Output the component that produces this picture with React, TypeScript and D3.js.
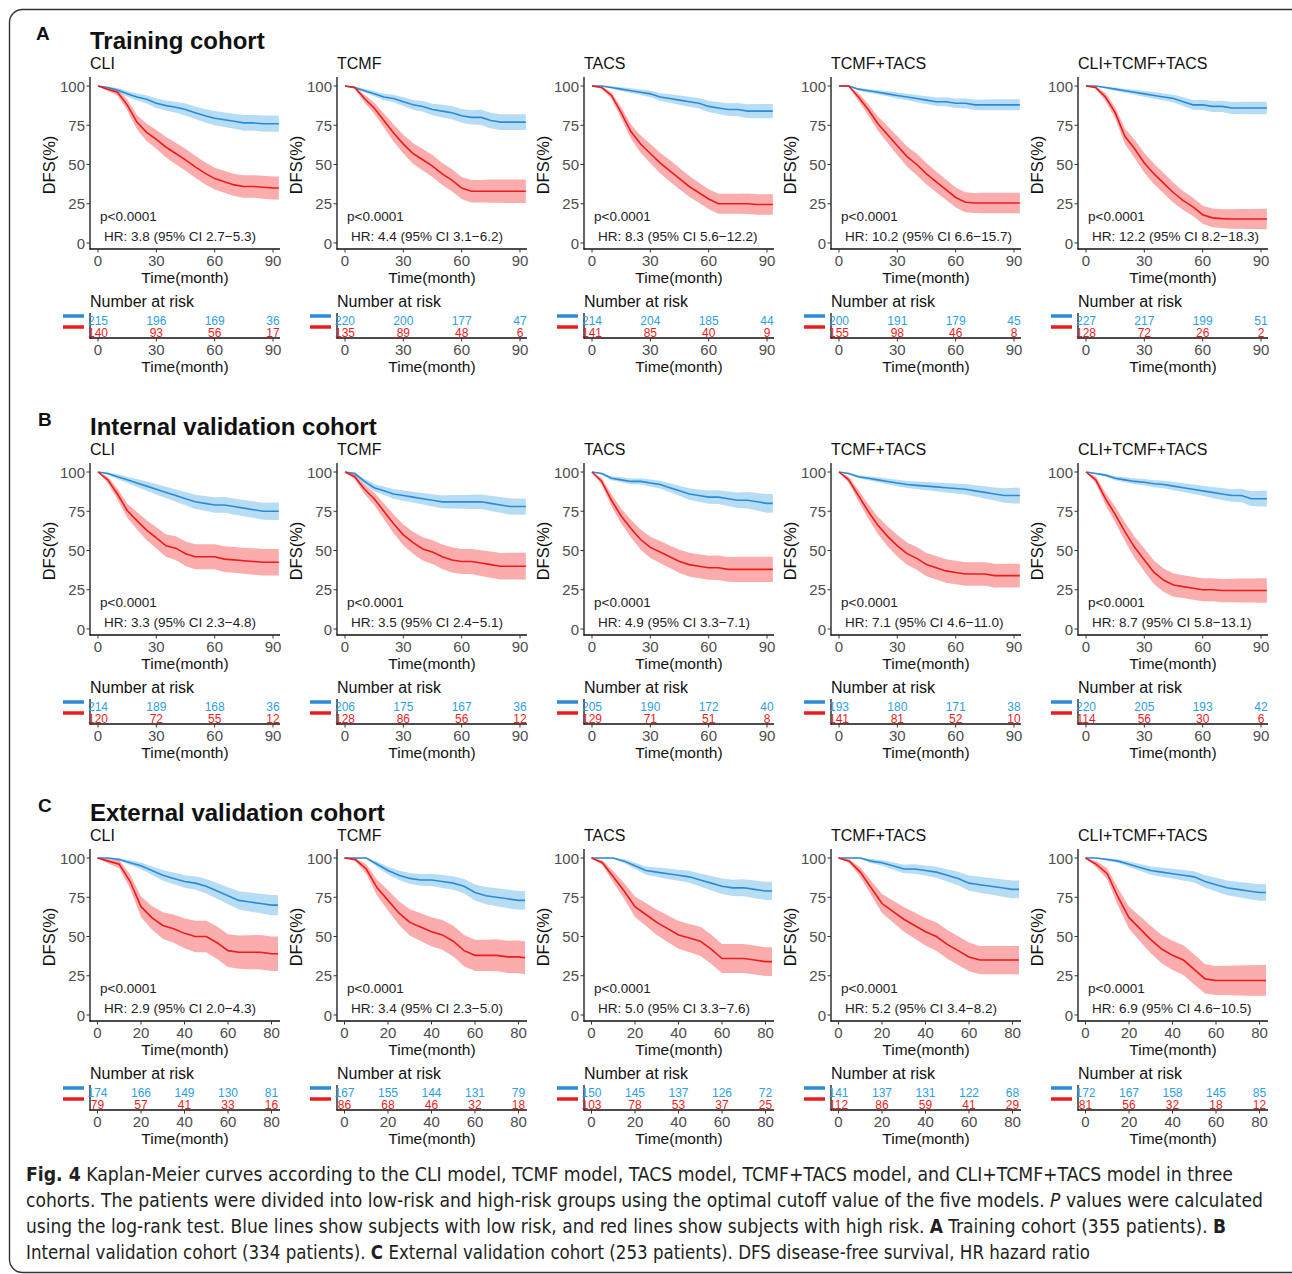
import React from "react";
import * as d3 from "d3";

// ---- layout constants ----
const W = 1292;
const H = 1274;
const COL_STEP = 247;
const ROW_STEP = 386;

// ---- data ----
const models = ["CLI", "TCMF", "TACS", "TCMF+TACS", "CLI+TCMF+TACS"];
const letters = ["A", "B", "C"];
const cohortTitles = ["Training cohort", "Internal validation cohort", "External validation cohort"];

const timesAB = [0, 5, 10, 15, 20, 25, 30, 35, 40, 45, 50, 55, 60, 65, 70, 75, 80, 85, 90, 93];
const timesC = [0, 5, 10, 15, 20, 25, 30, 35, 40, 45, 50, 55, 60, 65, 70, 75, 80, 83];
const xTicksAB = [0, 30, 60, 90];
const xTicksC = [0, 20, 40, 60, 80];
const yTicks = [0, 25, 50, 75, 100];

const hrA = ["HR: 3.8 (95% CI 2.7\u22125.3)", "HR: 4.4 (95% CI 3.1\u22126.2)", "HR: 8.3 (95% CI 5.6\u221212.2)", "HR: 10.2 (95% CI 6.6\u221215.7)", "HR: 12.2 (95% CI 8.2\u221218.3)"];
const hrB = ["HR: 3.3 (95% CI 2.3\u22124.8)", "HR: 3.5 (95% CI 2.4\u22125.1)", "HR: 4.9 (95% CI 3.3\u22127.1)", "HR: 7.1 (95% CI 4.6\u221211.0)", "HR: 8.7 (95% CI 5.8\u221213.1)"];
const hrC = ["HR: 2.9 (95% CI 2.0\u22124.3)", "HR: 3.4 (95% CI 2.3\u22125.0)", "HR: 5.0 (95% CI 3.3\u22127.6)", "HR: 5.2 (95% CI 3.4\u22128.2)", "HR: 6.9 (95% CI 4.6\u221210.5)"];

// number at risk (low risk / high risk)
const riskLowA = [[215, 196, 169, 36], [220, 200, 177, 47], [214, 204, 185, 44], [200, 191, 179, 45], [227, 217, 199, 51]];
const riskHighA = [[140, 93, 56, 17], [135, 89, 48, 6], [141, 85, 40, 9], [155, 98, 46, 8], [128, 72, 26, 2]];
const riskLowB = [[214, 189, 168, 36], [206, 175, 167, 36], [205, 190, 172, 40], [193, 180, 171, 38], [220, 205, 193, 42]];
const riskHighB = [[120, 72, 55, 12], [128, 86, 56, 12], [129, 71, 51, 8], [141, 81, 52, 10], [114, 56, 30, 6]];
const riskLowC = [[174, 166, 149, 130, 81], [167, 155, 144, 131, 79], [150, 145, 137, 126, 72], [141, 137, 131, 122, 68], [172, 167, 158, 145, 85]];
const riskHighC = [[79, 57, 41, 33, 16], [86, 68, 46, 32, 18], [103, 78, 53, 37, 25], [112, 86, 59, 41, 29], [81, 56, 32, 18, 12]];

// DFS (%)
const survLowA = [
  [100, 99, 97.5, 95, 93, 91.5, 89, 87.5, 86.5, 85, 83, 81, 79.5, 78.5, 77.5, 76.5, 76.5, 76, 76, 76],
  [100, 99, 97, 95, 93, 92, 90, 88, 87, 85, 84, 83, 81, 80, 80, 78, 77, 77, 77, 77],
  [100, 100, 99, 98, 97, 96, 95, 93, 92, 91, 90, 89, 87, 86, 85, 85, 84, 84, 84, 84],
  [100, 100, 98, 97, 96, 95, 94, 93, 92, 91, 90, 90, 89, 89, 88, 88, 88, 88, 88, 88],
  [100, 100, 99, 98, 97, 96, 95, 94, 93, 92, 90, 88, 88, 87, 87, 86, 86, 86, 86, 86],
];
const survHighA = [
  [100, 98, 96, 88, 77, 70.5, 66, 61, 57, 53, 48.5, 44.5, 41, 39, 37, 36, 36, 35.5, 35, 35],
  [100, 99, 92, 86, 78, 70, 63, 57, 53, 49, 44, 40, 35, 33, 33, 33, 33, 33, 33, 33],
  [100, 99, 94, 83, 71, 63, 57, 51, 46, 41, 36, 32, 28, 25, 25, 25, 25, 24.5, 24.5, 24.5],
  [100, 100, 93, 85, 76, 69, 62, 55, 50, 44, 39, 34, 29, 26, 25.5, 25.5, 25.5, 25.5, 25.5, 25.5],
  [100, 99, 93, 83, 68, 60, 51, 44, 38, 32, 27, 23, 18, 16, 15.5, 15.3, 15.3, 15.3, 15.3, 15.3],
];
const survLowB = [
  [100, 99, 97, 95, 93, 91, 89, 87, 85, 83, 81, 80, 79, 79, 78, 77, 76, 75, 75, 75],
  [100, 99, 94, 90, 88, 86, 85, 84, 83, 82, 81, 81, 81, 81, 81, 80, 79, 78, 78, 78],
  [100, 99, 96, 95, 94, 94, 93, 92, 90, 88, 86, 85, 84, 84, 83, 82, 82, 81, 80, 80],
  [100, 99, 97, 96, 95, 94, 93, 92, 91.5, 91, 90.5, 90, 89.5, 89, 88, 87, 86, 85, 85, 85],
  [100, 99, 98, 96, 95, 94, 93.5, 92.5, 92, 91, 90, 89, 88, 87, 86, 85, 85, 83, 83, 83],
];
const survHighB = [
  [100, 95, 86, 75.5, 69, 63, 58, 53, 51.5, 48, 46, 46, 46, 44.5, 44, 43.5, 43, 42.5, 42.5, 42.5],
  [100, 97, 89, 83, 75, 67, 60, 55, 51, 49, 46, 44, 43, 43, 42, 41, 40, 40, 40, 40],
  [100, 94, 82, 72, 64, 57, 52, 49, 46, 43, 41, 40, 39, 39, 38, 38, 38, 38, 38, 38],
  [100, 95, 85, 75, 66, 59, 53, 48, 45, 41, 39, 37, 36, 35, 35, 35, 34, 34, 34, 34],
  [100, 95, 83, 73, 62, 52, 44, 36, 31, 28, 27, 26, 25, 25, 24.5, 24.5, 24.5, 24.5, 24.5, 24.5],
];
const survLowC = [
  [100, 100, 99, 97, 95, 92, 89, 87, 85, 84, 82, 79, 76, 73, 72, 71, 70, 70],
  [100, 100, 100, 96, 92, 89, 87, 86, 86, 85, 84, 82, 78, 76, 75, 74, 73, 73],
  [100, 100, 100, 98, 95, 92, 91, 90, 89, 88, 86, 84, 82, 81, 81, 80, 79, 79],
  [100, 100, 100, 98, 97, 95, 93, 93, 92, 91, 89, 87, 84, 83, 82, 81, 80, 80],
  [100, 100, 99, 98, 96, 94, 92, 91, 90, 89, 88, 85, 83, 81, 80, 79, 78, 78],
];
const survHighC = [
  [100, 98, 96, 85, 69, 62, 57, 55, 52, 50, 50, 46, 41, 40, 40, 40, 39, 39],
  [100, 99, 93, 81, 73, 65, 59, 56, 53, 51, 47, 41, 38, 38, 38, 37, 37, 36.5],
  [100, 97, 88, 79, 69, 64, 59, 55, 51, 49, 47, 42, 36, 36, 36, 35, 34, 34],
  [100, 98, 91, 81, 71, 66, 61, 57, 53, 50, 45, 41, 37, 35, 35, 35, 35, 35],
  [100, 96, 90, 75, 62, 55, 48, 42, 38, 35, 29, 23, 22, 22, 22, 22, 22, 22],
];

// half width of the 95% CI band (percentage points)
const bandLowA = [
  [0, 0.6, 1.2, 1.8, 2.2, 2.6, 3, 3.3, 3.5, 3.8, 4, 4.3, 4.5, 4.6, 4.8, 5, 5, 5.2, 5.2, 5.2],
  [0, 0.6, 1.2, 1.6, 2, 2.4, 2.8, 3.1, 3.4, 3.7, 4, 4.2, 4.4, 4.6, 4.8, 5, 5, 5, 5, 5],
  [0, 0.3, 0.8, 1.2, 1.5, 1.8, 2.1, 2.4, 2.7, 3, 3.2, 3.4, 3.6, 3.8, 4, 4.2, 4.4, 4.5, 4.5, 4.5],
  [0, 0.2, 0.8, 1.1, 1.4, 1.6, 1.9, 2.1, 2.3, 2.5, 2.7, 2.9, 3, 3.2, 3.3, 3.4, 3.5, 3.5, 3.5, 3.5],
  [0, 0.2, 0.6, 1, 1.3, 1.6, 1.8, 2.1, 2.3, 2.5, 2.8, 3.1, 3.3, 3.5, 3.6, 3.8, 3.9, 4, 4, 4],
];
const bandHighA = [
  [0, 1.2, 2, 3.5, 4.5, 5.5, 6, 6.5, 6.8, 7, 7, 7, 7, 7, 7, 7.2, 7.2, 7.3, 7.3, 7.3],
  [0, 0.8, 2.5, 3.5, 4.5, 5.5, 6, 6.5, 6.8, 7, 7, 7, 7, 7.2, 7.2, 7.4, 7.4, 7.5, 7.5, 7.5],
  [0, 0.8, 2, 3.5, 4.5, 5.5, 6, 6.5, 6.8, 6.8, 6.6, 6.4, 6.3, 6.3, 6.3, 6.4, 6.5, 6.5, 6.5, 6.5],
  [0, 0.3, 2.5, 3.5, 4.5, 5.3, 6, 6.5, 6.8, 6.8, 6.6, 6.5, 6.4, 6.4, 6.4, 6.5, 6.5, 6.5, 6.5, 6.5],
  [0, 0.8, 2.5, 3.5, 5, 5.8, 6.3, 6.5, 6.5, 6.3, 6, 5.8, 5.8, 5.9, 6, 6.2, 6.3, 6.4, 6.5, 6.5],
];
const bandLowB = [
  [0, 0.8, 1.5, 2, 2.5, 3, 3.3, 3.6, 3.9, 4.2, 4.5, 4.7, 4.9, 5, 5.1, 5.2, 5.3, 5.4, 5.5, 5.5],
  [0, 0.8, 1.8, 2.3, 2.7, 3, 3.3, 3.5, 3.7, 3.9, 4.1, 4.3, 4.4, 4.5, 4.6, 4.8, 5, 5.2, 5.2, 5.2],
  [0, 0.6, 1.3, 1.6, 1.8, 2, 2.2, 2.5, 2.8, 3.2, 3.6, 3.9, 4.2, 4.4, 4.6, 4.9, 5.2, 5.6, 6, 6],
  [0, 0.5, 1, 1.3, 1.6, 1.8, 2, 2.2, 2.4, 2.6, 2.8, 3, 3.2, 3.4, 3.6, 3.9, 4.2, 4.6, 5, 5],
  [0, 0.5, 0.9, 1.3, 1.6, 1.8, 2, 2.2, 2.4, 2.6, 2.8, 3, 3.2, 3.5, 3.8, 4, 4.3, 4.7, 5, 5],
];
const bandHighB = [
  [0, 2, 3.5, 4.5, 5.5, 6.3, 6.8, 7.2, 7.5, 7.8, 8, 8, 8, 8.2, 8.2, 8.3, 8.4, 8.5, 8.5, 8.5],
  [0, 1.5, 3, 4, 5, 6, 6.6, 7, 7.4, 7.6, 7.8, 8, 8, 8, 8.2, 8.3, 8.4, 8.5, 8.5, 8.5],
  [0, 2.2, 3.8, 4.8, 5.6, 6.3, 6.8, 7, 7.2, 7.4, 7.5, 7.6, 7.7, 7.8, 7.9, 8, 8, 8, 8, 8],
  [0, 2, 3.5, 4.5, 5.5, 6.3, 6.8, 7.1, 7.3, 7.4, 7.5, 7.5, 7.5, 7.5, 7.5, 7.5, 7.5, 7.5, 7.5, 7.5],
  [0, 2.2, 3.8, 5, 6, 6.8, 7.3, 7.5, 7.5, 7.4, 7.3, 7.3, 7.3, 7.3, 7.4, 7.5, 7.6, 7.7, 7.8, 7.8],
];
const bandLowC = [
  [0, 0.3, 0.8, 1.5, 2.2, 2.8, 3.3, 3.7, 4, 4.3, 4.6, 5, 5.4, 5.8, 6, 6.2, 6.4, 6.5],
  [0, 0.3, 0.5, 1.8, 2.5, 3, 3.4, 3.7, 3.9, 4.1, 4.3, 4.6, 5.1, 5.5, 5.7, 5.9, 6, 6],
  [0, 0.3, 0.5, 1.3, 2, 2.6, 3, 3.3, 3.5, 3.8, 4.1, 4.5, 4.9, 5.2, 5.4, 5.6, 5.8, 5.8],
  [0, 0.3, 0.5, 1.3, 1.8, 2.3, 2.7, 3, 3.2, 3.5, 3.9, 4.3, 4.8, 5.1, 5.3, 5.5, 5.7, 5.7],
  [0, 0.3, 0.8, 1.2, 1.8, 2.2, 2.6, 2.9, 3.1, 3.3, 3.6, 4, 4.4, 4.7, 4.9, 5.1, 5.3, 5.3],
];
const bandHighC = [
  [0, 1.5, 2.5, 4.5, 6.5, 7.5, 8.5, 9, 9.5, 10, 10, 10.3, 10.5, 10.6, 10.8, 11, 11, 11],
  [0, 1, 3, 5, 6.5, 7.5, 8.3, 8.8, 9.2, 9.5, 9.8, 10, 10, 10, 10.2, 10.3, 10.4, 10.5],
  [0, 1.5, 3.5, 5, 6.5, 7.3, 8, 8.5, 8.8, 9, 9.2, 9.3, 9.2, 9.2, 9.2, 9.2, 9.2, 9.2],
  [0, 1.2, 3, 4.5, 6, 7, 7.8, 8.3, 8.7, 9, 9.2, 9.2, 9.1, 9, 9, 9, 9, 9],
  [0, 2, 3.5, 5.5, 7, 8, 8.7, 9, 9.3, 9.5, 9.5, 9.3, 9.2, 9.3, 9.5, 9.7, 9.8, 9.8],
];

const survLow = [survLowA, survLowB, survLowC];
const survHigh = [survHighA, survHighB, survHighC];
const bandLow = [bandLowA, bandLowB, bandLowC];
const bandHigh = [bandHighA, bandHighB, bandHighC];
const riskLow = [riskLowA, riskLowB, riskLowC];
const riskHigh = [riskHighA, riskHighB, riskHighC];
const hrLabels = [hrA, hrB, hrC];

// ---- styles ----
const FONT = "'Liberation Sans', Arial, sans-serif";
const BLUE = "#2a8bd8";
const BLUE_FILL = "#2E9FDF";
const RED = "#ee1b1b";
const RED_FILL = "#f41a1a";
const TICK_GREY = "#4d4d4d";

const KMPanel = ({ row, col }: { row: number; col: number }) => {
  const isC = row === 2;
  const times = isC ? timesC : timesAB;
  const xTicks = isC ? xTicksC : xTicksAB;
  const x = d3.scaleLinear().domain(isC ? [0, 80] : [0, 90]).range(isC ? [97.5, 271.5] : [98, 273]);
  const y = d3.scaleLinear().domain([0, 100]).range([243, 86]);

  const band = (s: number[], h: number[]) =>
    d3
      .area<number>()
      .x((_, i) => x(times[i]))
      .y0((v, i) => y(Math.max(0, v - h[i])))
      .y1((v, i) => y(Math.min(100, v + h[i])))(s) || "";
  const line = (s: number[]) =>
    d3
      .line<number>()
      .x((_, i) => x(times[i]))
      .y((v) => y(v))(s) || "";

  const lo = survLow[row][col];
  const hi = survHigh[row][col];

  return (
    <g transform={`translate(${col * COL_STEP},${row * ROW_STEP})`} fontFamily={FONT}>
      <text x={90} y={69} fontSize={16} fill="#111">{models[col]}</text>

      {/* survival curves with CI bands */}
      <path d={band(lo, bandLow[row][col])} fill={BLUE_FILL} opacity={0.35} />
      <path d={band(hi, bandHigh[row][col])} fill={RED_FILL} opacity={0.36} />
      <path d={line(lo)} fill="none" stroke={BLUE} strokeWidth={1.6} />
      <path d={line(hi)} fill="none" stroke={RED} strokeWidth={1.6} />

      {/* y axis */}
      <line x1={90} x2={90} y1={77} y2={249.5} stroke="#111" strokeWidth={1.3} />
      {yTicks.map((t) => (
        <g key={t}>
          <line x1={86.5} x2={90} y1={y(t)} y2={y(t)} stroke="#333" strokeWidth={1} />
          <text x={85} y={y(t) + 5.5} fontSize={15} textAnchor="end" fill={TICK_GREY}>{t}</text>
        </g>
      ))}
      <text transform="translate(55,165) rotate(-90)" fontSize={16.5} textAnchor="middle" fill="#111">DFS(%)</text>

      {/* x axis */}
      <line x1={89.5} x2={280} y1={249} y2={249} stroke="#111" strokeWidth={1.3} />
      {xTicks.map((t) => (
        <g key={t}>
          <line x1={x(t)} x2={x(t)} y1={249} y2={252.5} stroke="#333" strokeWidth={1} />
          <text x={x(t)} y={265.5} fontSize={15} textAnchor="middle" fill={TICK_GREY}>{t}</text>
        </g>
      ))}
      <text x={185} y={283} fontSize={15.5} textAnchor="middle" fill="#111">Time(month)</text>

      <text x={100} y={220.5} fontSize={13.5} fill="#222">p&lt;0.0001</text>
      <text x={104} y={240.5} fontSize={13.5} fill="#222">{hrLabels[row][col]}</text>

      {/* number at risk table */}
      <text x={90} y={307} fontSize={16} fill="#111">Number at risk</text>
      <line x1={63} x2={84} y1={316} y2={316} stroke={BLUE} strokeWidth={3.5} />
      <line x1={63} x2={84} y1={327} y2={327} stroke={RED} strokeWidth={3.5} />
      <line x1={90} x2={90} y1={313} y2={338.5} stroke="#111" strokeWidth={1.3} />
      <line x1={89.5} x2={280} y1={338} y2={338} stroke="#111" strokeWidth={1.3} />
      {xTicks.map((t, i) => (
        <g key={t}>
          <text x={x(t)} y={325} fontSize={12} textAnchor="middle" fill={BLUE_FILL}>{riskLow[row][col][i]}</text>
          <text x={x(t)} y={336.5} fontSize={12} textAnchor="middle" fill={RED}>{riskHigh[row][col][i]}</text>
          <line x1={x(t)} x2={x(t)} y1={338} y2={341.5} stroke="#333" strokeWidth={1} />
          <text x={x(t)} y={355} fontSize={15} textAnchor="middle" fill={TICK_GREY}>{t}</text>
        </g>
      ))}
      <text x={185} y={372} fontSize={15.5} textAnchor="middle" fill="#111">Time(month)</text>
    </g>
  );
};

const CAP_FONT = "'Liberation Sans Narrow', 'DejaVu Sans Condensed', 'Open Sans', sans-serif";

export default function App() {
  return (
    <svg
      width={W}
      height={H}
      style={{ position: "absolute", left: 0, top: 0, background: "#fff" }}
      xmlns="http://www.w3.org/2000/svg"
    >
      <rect x={9.5} y={9.5} width={1295} height={1263} rx={13} fill="#fff" stroke="#333" strokeWidth={1.4} />

      {letters.map((l, r) => (
        <g key={l} transform={`translate(0,${r * ROW_STEP})`} fontFamily={FONT} fontWeight="bold" fill="#111">
          <text x={r === 0 ? 36 : 38} y={40} fontSize={19}>{l}</text>
          <text x={90} y={48.5} fontSize={24}>{cohortTitles[r]}</text>
        </g>
      ))}

      {[0, 1, 2].map((r) => models.map((_, c) => <KMPanel key={`${r}-${c}`} row={r} col={c} />))}

      <g fontFamily={CAP_FONT} fontSize={19} fill="#231f20" fontStretch="condensed">
        <text x={26} y={1181} textLength={1207} lengthAdjust="spacingAndGlyphs">
          <tspan fontWeight="bold">Fig. 4</tspan> Kaplan-Meier curves according to the CLI model, TCMF model, TACS model, TCMF+TACS model, and CLI+TCMF+TACS model in three
        </text>
        <text x={26} y={1207} textLength={1237} lengthAdjust="spacingAndGlyphs">
          cohorts. The patients were divided into low-risk and high-risk groups using the optimal cutoff value of the five models. <tspan fontStyle="italic">P</tspan> values were calculated
        </text>
        <text x={26} y={1233} textLength={1200} lengthAdjust="spacingAndGlyphs">
          using the log-rank test. Blue lines show subjects with low risk, and red lines show subjects with high risk. <tspan fontWeight="bold">A</tspan> Training cohort (355 patients). <tspan fontWeight="bold">B</tspan>
        </text>
        <text x={26} y={1259} textLength={1064} lengthAdjust="spacingAndGlyphs">
          Internal validation cohort (334 patients). <tspan fontWeight="bold">C</tspan> External validation cohort (253 patients). DFS disease-free survival, HR hazard ratio
        </text>
      </g>
    </svg>
  );
}
